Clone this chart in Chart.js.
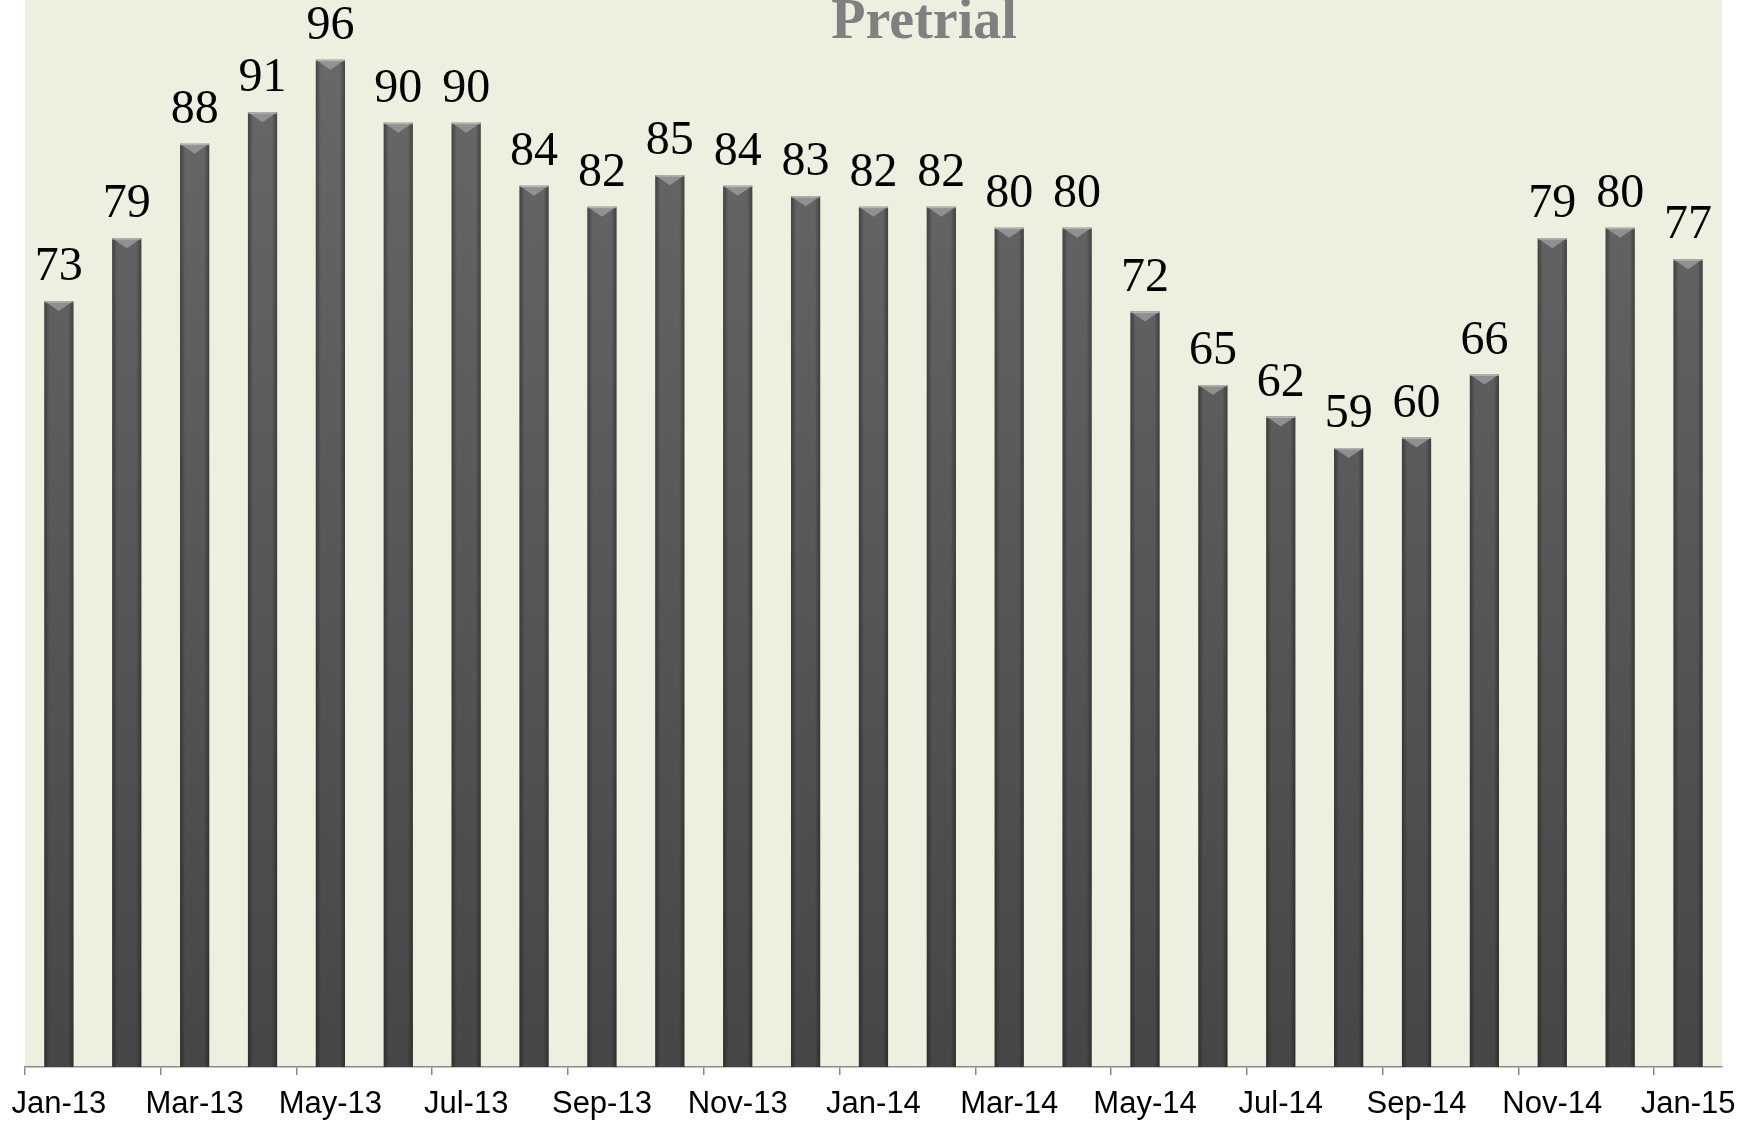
<!DOCTYPE html>
<html>
<head>
<meta charset="utf-8">
<script src="https://cdn.jsdelivr.net/npm/chart.js@4"></script>
<style>
  body { margin: 0; background: #ffffff; }
  canvas { display: block; }
</style>
</head>
<body>
<canvas id="pretrialChart" width="1760" height="1124"></canvas>
<script>
// months shown on the axis (one bar each)
const months = ['Jan-13','Feb-13','Mar-13','Apr-13','May-13','Jun-13','Jul-13','Aug-13','Sep-13','Oct-13','Nov-13','Dec-13',
                'Jan-14','Feb-14','Mar-14','Apr-14','May-14','Jun-14','Jul-14','Aug-14','Sep-14','Oct-14','Nov-14','Dec-14','Jan-15'];
const pretrialCounts = [73, 79, 88, 91, 96, 90, 90, 84, 82, 85, 84, 83, 82, 82, 80, 80, 72, 65, 62, 59, 60, 66, 79, 80, 77];
const chartTitle = 'Pretrial';

// light green plot background
const plotBackground = {
    id: 'plotBackground',
    beforeDraw(chart) {
        const { ctx, chartArea } = chart;
        ctx.save();
        ctx.fillStyle = '#ebf0df';
        ctx.fillRect(chartArea.left, chartArea.top, chartArea.right - chartArea.left, chartArea.bottom - chartArea.top);
        ctx.restore();
    }
};

// edge shading + little bevel on top of each bar, then the value labels
const barDecor = {
    id: 'barDecor',
    afterDatasetsDraw(chart) {
        const ctx = chart.ctx;
        const meta = chart.getDatasetMeta(0);
        ctx.save();
        meta.data.forEach((bar, i) => {
            const w = bar.width;
            const left = bar.x - w / 2;
            const top = bar.y;
            const h = bar.base - bar.y;

            const g = ctx.createLinearGradient(left, 0, left + w, 0);
            g.addColorStop(0, 'rgba(0,0,0,0.35)');
            g.addColorStop(0.18, 'rgba(0,0,0,0)');
            g.addColorStop(0.82, 'rgba(0,0,0,0)');
            g.addColorStop(1, 'rgba(0,0,0,0.35)');
            ctx.fillStyle = g;
            ctx.fillRect(left, top, w, h);

            // bevel at the top
            ctx.fillStyle = 'rgba(160,160,160,0.75)';
            ctx.beginPath();
            ctx.moveTo(left, top);
            ctx.lineTo(left + w, top);
            ctx.lineTo(bar.x, top + 10);
            ctx.closePath();
            ctx.fill();
            ctx.fillStyle = 'rgba(200,200,200,0.6)';
            ctx.fillRect(left, top, w, 1.5);

            ctx.fillStyle = '#000000';
            ctx.font = '48px "Liberation Serif", "Times New Roman", serif';
            ctx.textAlign = 'center';
            ctx.textBaseline = 'alphabetic';
            ctx.fillText(String(pretrialCounts[i]), bar.x, top - 21);
        });
        ctx.restore();
    }
};

// title sits at the very top, partly cut off
const titleText = {
    id: 'titleText',
    afterDraw(chart) {
        const ctx = chart.ctx;
        ctx.save();
        ctx.fillStyle = '#808080';
        ctx.font = 'bold 56px "Liberation Serif", "Times New Roman", serif';
        ctx.textAlign = 'center';
        ctx.textBaseline = 'alphabetic';
        ctx.fillText(chartTitle, 924, 38);
        ctx.restore();
    }
};

document.addEventListener('DOMContentLoaded', () => {
    const canvas = document.getElementById('pretrialChart').getContext('2d');

    new Chart(canvas, {
        type: 'bar',
        data: {
            labels: months,
            datasets: [{
                label: chartTitle,
                data: pretrialCounts,
                backgroundColor: (context) => {
                    const area = context.chart.chartArea;
                    if (!area) return '#5a5a5a';
                    const g = context.chart.ctx.createLinearGradient(0, area.top, 0, area.bottom);
                    g.addColorStop(0, '#6a6a6a');
                    g.addColorStop(1, '#464646');
                    return g;
                },
                borderWidth: 0,
                barPercentage: 0.43,
                categoryPercentage: 1
            }]
        },
        options: {
            responsive: false,
            animation: false,
            layout: { padding: { left: 24, right: 38, top: 0, bottom: 0 } },
            plugins: {
                legend: { display: false },
                title: { display: false },
                tooltip: { enabled: false }
            },
            scales: {
                x: {
                    offset: true,
                    afterFit: (scale) => { scale.height = 57; },
                    grid: {
                        offset: true,
                        drawOnChartArea: false,
                        drawTicks: true,
                        tickLength: 8,
                        // only every other month gets a tick mark
                        color: (ctx) => ctx.index % 2 === 0 ? '#8a8a8a' : 'rgba(0,0,0,0)',
                        lineWidth: 1.5
                    },
                    border: { display: true, color: '#8a8a8a', width: 1.5 },
                    ticks: {
                        autoSkip: false,
                        maxRotation: 0,
                        padding: 11,
                        color: '#000000',
                        font: { family: '"Liberation Sans", Arial, sans-serif', size: 31 },
                        callback: (value, index) => index % 2 === 0 ? months[index] : ''
                    }
                },
                y: {
                    display: false,
                    min: 0,
                    max: 101.7
                }
            }
        },
        plugins: [plotBackground, barDecor, titleText]
    });
});
</script>
</body>
</html>
